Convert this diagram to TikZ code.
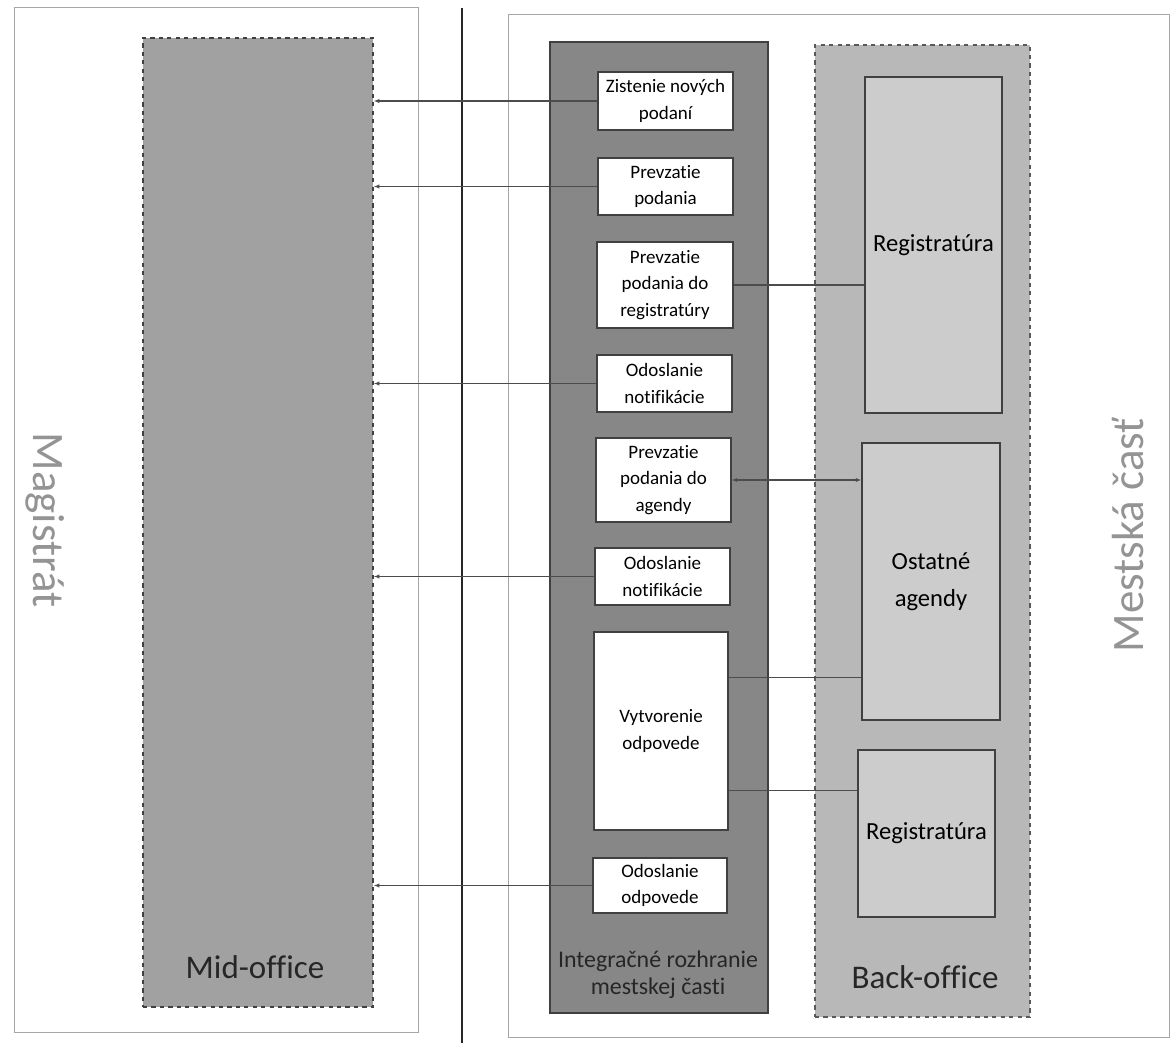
\documentclass[tikz,border=0pt]{standalone}
\usepackage{fontspec}
\setmainfont{Carlito}[Ligatures=NoCommon]
\usetikzlibrary{arrows.meta,calc,fit}

\begin{document}
\begin{tikzpicture}[x=0.025cm,y=-0.025cm,
    frame/.style={draw=black!35, line width=0.4pt},
    lane/.style={draw=black!75, line width=0.9pt, inner sep=0pt},
    boxsize/.style 2 args={minimum width=#1*0.025cm, minimum height=#2*0.025cm},
    stepbox/.style={draw=black!75, fill=white, line width=0.8pt, inner sep=0pt, align=center, font=\fontsize{13.5}{19}\selectfont},
    sysbox/.style={draw=black!75, fill=black!20, line width=0.8pt, inner sep=0pt, align=center, font=\fontsize{17.5}{26}\selectfont},
    conn/.style={draw=black!70, line width=0.8pt},
    tip/.style={conn, -{Latex[length=4pt,width=3pt]}}]
    \useasboundingbox (0,0) rectangle (1171,1043);
    \draw[frame] (14,7) rectangle (418,1032);
    \draw[frame] (508,14) rectangle (1169,1037);
    \draw[black!85, line width=1pt] (462,8) -- (462,1043);
    \node[lane, dashed, fill=black!37, fit={(143,38) (373,1007)}] (mid) {};
    \node[lane, fill=black!47, fit={(550,42) (768,1013)}] (integ) {};
    \node[lane, dashed, draw=black!65, fill=black!28, fit={(815,45) (1030,1017)}] (back) {};
    \node[font=\fontsize{23.5}{28}\selectfont, text=black!85] (midlab) at (255,967) {Mid-office};
    \node[align=center, font=\fontsize{17}{19.5}\selectfont, text=black!85] (integlab) at (658,975) {Integračné rozhranie\\mestskej časti};
    \node[font=\fontsize{23.5}{28}\selectfont, text=black!85] (backlab) at (925,977) {Back-office};
    \node[rotate=-90, text=black!42, font=\fontsize{32}{36}\selectfont] (magistrat) at (45,520) {Magistrát};
    \node[rotate=90, text=black!42, font=\fontsize{32}{36}\selectfont] (mestska) at (1128,535) {Mestská časť};
    \node[stepbox, boxsize={135}{58}] (zistenie) at (665.5,101) {Zistenie nových\\podaní};
    \node[stepbox, boxsize={135}{57}] (prevzatie) at (665.5,186.5) {Prevzatie\\podania};
    \node[stepbox, boxsize={136}{86}] (prevreg) at (665,285) {Prevzatie\\podania do\\registratúry};
    \node[stepbox, boxsize={135}{57}] (notif1) at (664.5,383.5) {Odoslanie\\notifikácie};
    \node[stepbox, boxsize={135}{84}] (prevag) at (663.5,480) {Prevzatie\\podania do\\agendy};
    \node[stepbox, boxsize={135}{57}] (notif2) at (662.5,576.5) {Odoslanie\\notifikácie};
    \node[stepbox, boxsize={134}{198}] (vytvorenie) at (661,731) {Vytvorenie\\odpovede};
    \node[stepbox, boxsize={134}{55}] (odoslanie) at (660,885.5) {Odoslanie\\odpovede};
    \node[sysbox, boxsize={137}{336}] (regtop) at (933.5,245) {Registratúra};
    \node[sysbox, boxsize={138}{277}] (agendy) at (931,581.5) {Ostatné\\agendy};
    \node[sysbox, boxsize={137}{167}] (regbot) at (926.5,833.5) {Registratúra};
    \foreach \s in {zistenie,prevzatie,notif1,notif2,odoslanie}
        \draw[tip] (\s.west) -- (mid.east |- \s.west);
    \draw[conn] (prevreg.east) -- (regtop.west |- prevreg.east);
    \draw[conn, {Latex[length=4pt,width=3pt]}-{Latex[length=4pt,width=3pt]}] (prevag.east) -- (agendy.west |- prevag.east);
    \coordinate (vyt1) at ($(vytvorenie.north east)!0.23!(vytvorenie.south east)$);
    \coordinate (vyt2) at ($(vytvorenie.north east)!0.8!(vytvorenie.south east)$);
    \draw[conn] (vyt1) -- (agendy.west |- vyt1);
    \draw[conn] (vyt2) -- (regbot.west |- vyt2);
\end{tikzpicture}
\end{document}
